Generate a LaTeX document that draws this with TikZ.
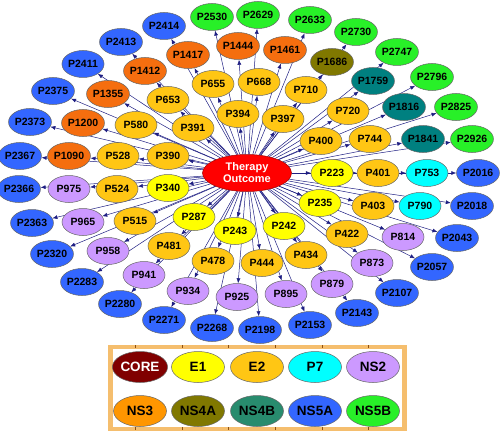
\documentclass[tikz,border=0pt]{standalone}
\usepackage{fontspec}
\setmainfont{Liberation Sans}
\usetikzlibrary{shapes.geometric,arrows.meta}
\pgfdeclarelayer{background}
\pgfsetlayers{background,main}
\definecolor{cE1}{RGB}{255,255,0}
\definecolor{cE2}{RGB}{255,198,20}
\definecolor{cNS3}{RGB}{245,110,15}
\definecolor{cNS3L}{RGB}{255,150,0}
\definecolor{cNS4A}{RGB}{128,120,0}
\definecolor{cNS4B}{RGB}{0,128,128}
\definecolor{cNS4BL}{RGB}{40,140,110}
\definecolor{cP7}{RGB}{0,255,255}
\definecolor{cNS2}{RGB}{204,153,255}
\definecolor{cNS5A}{RGB}{51,102,255}
\definecolor{cNS5B}{RGB}{40,240,40}
\definecolor{cCORE}{RGB}{128,0,0}
\definecolor{edgec}{RGB}{30,30,130}
\definecolor{frameC}{RGB}{245,190,110}
\definecolor{tickC}{RGB}{140,80,20}
\begin{document}
\begin{tikzpicture}[x=1pt,y=-1pt,
  nd/.style={ellipse,draw=black!60,line width=0.5pt,inner sep=0pt,minimum width=42pt,minimum height=27pt,font=\fontsize{10.5}{12}\selectfont\bfseries},
  e1/.style={nd,fill=cE1},
  e2/.style={nd,fill=cE2},
  ns2/.style={nd,fill=cNS2},
  ns3/.style={nd,fill=cNS3},
  ns4a/.style={nd,fill=cNS4A},
  ns4b/.style={nd,fill=cNS4B},
  p7/.style={nd,fill=cP7},
  ns5a/.style={nd,fill=cNS5A},
  ns5b/.style={nd,fill=cNS5B},
  lg/.style={ellipse,draw=black!60,line width=0.5pt,inner sep=0pt,minimum width=53pt,minimum height=31pt,font=\fontsize{13.5}{14}\selectfont\bfseries},
  edge/.style={draw=edgec,line width=0.5pt,-{Latex[length=5pt,width=4pt]}},
  tick/.style={draw=tickC,line width=1pt}]
\useasboundingbox (0,0) rectangle (500,433);

% center
\node[ellipse,fill=red,draw=red!60!black,line width=0.5pt,minimum width=89pt,minimum height=37pt,inner sep=0pt,text=white,align=center,font=\fontsize{11}{12}\selectfont\bfseries] (TO) at (247,173) {Therapy\\Outcome};

% NS5B
\node[ns5b] (P2530) at (212,17) {P2530};
\node[ns5b] (P2629) at (258,15) {P2629};
\node[ns5b] (P2633) at (310,20) {P2633};
\node[ns5b] (P2730) at (356,32) {P2730};
\node[ns5b] (P2747) at (397,52) {P2747};
\node[ns5b] (P2796) at (432,77) {P2796};
\node[ns5b] (P2825) at (456,107) {P2825};
\node[ns5b] (P2926) at (472,139) {P2926};
% NS5A
\node[ns5a] (P2414) at (164,26) {P2414};
\node[ns5a] (P2413) at (121,42) {P2413};
\node[ns5a] (P2411) at (83,64) {P2411};
\node[ns5a] (P2375) at (53,91) {P2375};
\node[ns5a] (P2373) at (30,122) {P2373};
\node[ns5a] (P2367) at (20,156) {P2367};
\node[ns5a] (P2366) at (19,189) {P2366};
\node[ns5a] (P2363) at (32,223) {P2363};
\node[ns5a] (P2320) at (52,254) {P2320};
\node[ns5a] (P2283) at (82,282) {P2283};
\node[ns5a] (P2280) at (120,304) {P2280};
\node[ns5a] (P2271) at (164,320) {P2271};
\node[ns5a] (P2268) at (212,328) {P2268};
\node[ns5a] (P2198) at (260,330) {P2198};
\node[ns5a] (P2153) at (310,325) {P2153};
\node[ns5a] (P2143) at (357,313) {P2143};
\node[ns5a] (P2107) at (397,293) {P2107};
\node[ns5a] (P2057) at (432,267) {P2057};
\node[ns5a] (P2043) at (457,238) {P2043};
\node[ns5a] (P2018) at (472,206) {P2018};
\node[ns5a] (P2016) at (478,173) {P2016};
% NS3
\node[ns3] (P1444) at (238,46) {P1444};
\node[ns3] (P1417) at (188,55) {P1417};
\node[ns3] (P1412) at (145,71) {P1412};
\node[ns3] (P1355) at (108,94) {P1355};
\node[ns3] (P1200) at (83,123) {P1200};
\node[ns3] (P1090) at (69,156) {P1090};
\node[ns3] (P1461) at (285,50) {P1461};
% NS4
\node[ns4a] (P1686) at (332,62) {P1686};
\node[ns4b] (P1759) at (373,81) {P1759};
\node[ns4b] (P1816) at (404,107) {P1816};
\node[ns4b] (P1841) at (423,139) {P1841};
% P7
\node[p7] (P753) at (427,173) {P753};
\node[p7] (P790) at (420,206) {P790};
% NS2
\node[ns2] (P814) at (403,237) {P814};
\node[ns2] (P873) at (372,263) {P873};
\node[ns2] (P879) at (332,284) {P879};
\node[ns2] (P895) at (286,294) {P895};
\node[ns2] (P925) at (237,297) {P925};
\node[ns2] (P934) at (188,291) {P934};
\node[ns2] (P941) at (144,275) {P941};
\node[ns2] (P958) at (108,251) {P958};
\node[ns2] (P965) at (83,222) {P965};
\node[ns2] (P975) at (69,189) {P975};
% E2
\node[e2] (P655) at (213,84) {P655};
\node[e2] (P668) at (259,82) {P668};
\node[e2] (P710) at (306,90) {P710};
\node[e2] (P720) at (348,111) {P720};
\node[e2] (P744) at (370,139) {P744};
\node[e2] (P401) at (378,173) {P401};
\node[e2] (P403) at (373,206) {P403};
\node[e2] (P422) at (347,234) {P422};
\node[e2] (P434) at (306,255) {P434};
\node[e2] (P444) at (262,263) {P444};
\node[e2] (P478) at (213,261) {P478};
\node[e2] (P481) at (169,246) {P481};
\node[e2] (P515) at (135,221) {P515};
\node[e2] (P524) at (117,189) {P524};
\node[e2] (P528) at (118,156) {P528};
\node[e2] (P580) at (136,125) {P580};
\node[e2] (P653) at (168,100) {P653};
\node[e2] (P391) at (193,128) {P391};
\node[e2] (P394) at (238,114) {P394};
\node[e2] (P397) at (283,119) {P397};
\node[e2] (P400) at (321,141) {P400};
\node[e2] (P390) at (168,156) {P390};
% E1
\node[e1] (P223) at (332,173) {P223};
\node[e1] (P235) at (320,203) {P235};
\node[e1] (P242) at (284,226) {P242};
\node[e1] (P243) at (235,231) {P243};
\node[e1] (P287) at (194,217) {P287};
\node[e1] (P340) at (168,188) {P340};

% edges
\begin{pgfonlayer}{background}
\foreach \n in {P2530,P2629,P2633,P2730,P2747,P2796,P2825,P2926,
  P2414,P2413,P2411,P2375,P2373,P2367,P2366,P2363,P2320,P2283,P2280,P2271,P2268,P2198,P2153,P2143,P2107,P2057,P2043,P2018,P2016,
  P1444,P1417,P1412,P1355,P1200,P1090,P1461,P1686,P1759,P1816,P1841,P753,P790,
  P814,P873,P879,P895,P925,P934,P941,P958,P965,P975,
  P655,P668,P710,P720,P744,P401,P403,P422,P434,P444,P478,P481,P515,P524,P528,P580,P653,P391,P394,P397,P400,P390,
  P223,P235,P242,P243,P287,P340}
  \draw[edge] (TO) -- (\n);
\end{pgfonlayer}

% legend frame
\draw[line width=4.5pt,draw=frameC] (110.5,347) rectangle (404.5,429);
\foreach \t [count=\i] in {135,182,228,275,322,368} {
  \coordinate (tt\i) at (\t,345);
  \coordinate (tb\i) at (\t,427);
  \draw[tick] (tt\i) -- ++(0,3);
  \draw[tick] (tb\i) -- ++(0,3);
}

% legend
\node[lg,fill=cCORE,text=white] (lCORE) at (140,367) {CORE};
\node[lg,fill=cE1] (lE1) at (198,367) {E1};
\node[lg,fill=cE2] (lE2) at (257,367) {E2};
\node[lg,fill=cP7] (lP7) at (315,367) {P7};
\node[lg,fill=cNS2] (lNS2) at (373,367) {NS2};
\node[lg,fill=cNS3L] (lNS3) at (140,411) {NS3};
\node[lg,fill=cNS4A] (lNS4A) at (198,411) {NS4A};
\node[lg,fill=cNS4BL] (lNS4B) at (257,411) {NS4B};
\node[lg,fill=cNS5A] (lNS5A) at (315,411) {NS5A};
\node[lg,fill=cNS5B] (lNS5B) at (373,411) {NS5B};
\end{tikzpicture}
\end{document}
